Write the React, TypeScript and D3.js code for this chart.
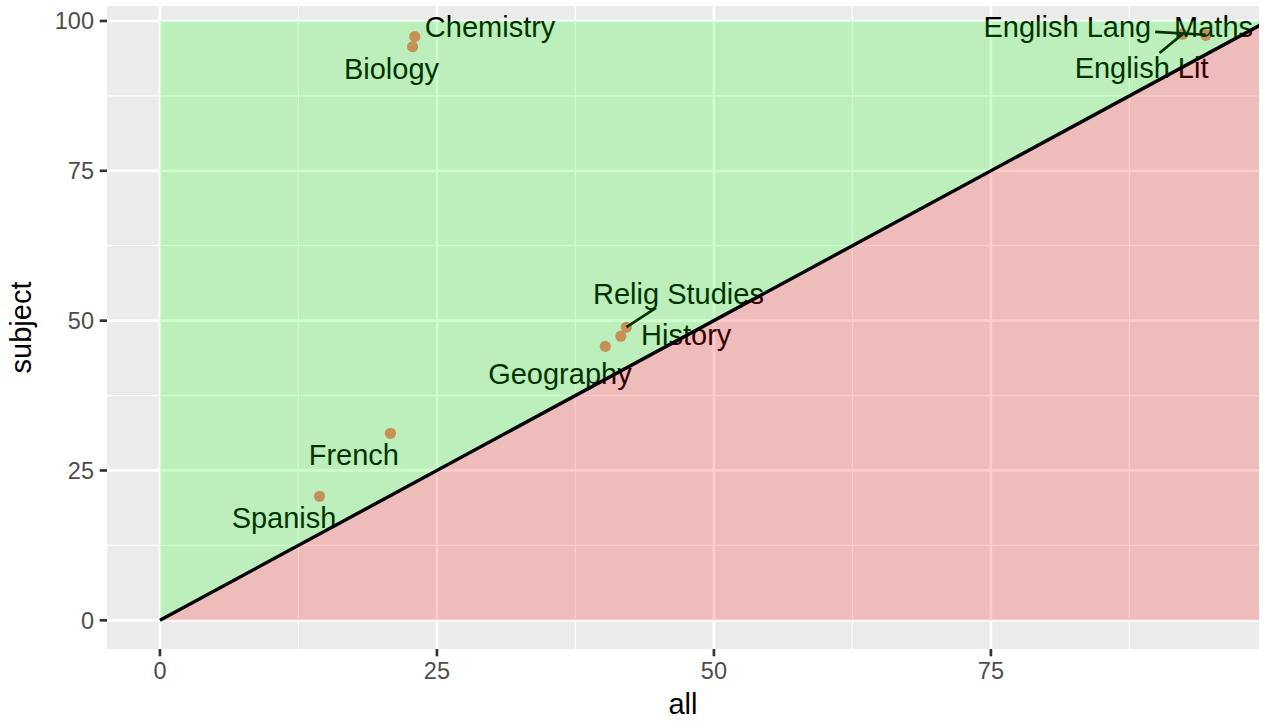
import React from "react";
import * as d3 from "d3";

const subjects = ["Chemistry", "Biology", "English Lang", "Maths", "English Lit", "Relig Studies", "History", "Geography", "French", "Spanish"];
const allVals = [23.0, 22.8, 94.4, 94.4, 92.3, 42.1, 41.6, 40.2, 20.8, 14.4];
const subjectVals = [97.4, 95.7, 97.7, 97.6, 97.8, 48.9, 47.4, 45.7, 31.2, 20.7];
// label positions (repelled), in data units
const labelX = [29.8, 20.9, 81.9, 95.1, 88.6, 46.8, 47.5, 36.1, 17.5, 11.2];
const labelY = [99.0, 92.0, 99.0, 99.0, 92.2, 54.6, 47.7, 41.1, 27.7, 17.2];
const segmentLabels = ["English Lang", "English Lit", "Relig Studies"];

const xTicks = [0, 25, 50, 75];
const yTicks = [0, 25, 50, 75, 100];
const xMinor = [12.5, 37.5, 62.5, 87.5];
const yMinor = [12.5, 37.5, 62.5, 87.5];

const regionMax = 100;

const W = 1264, H = 721;
const PL = 107, PR = 1259, PT = 6, PB = 649;

const FONT = "'Liberation Sans', Arial, Helvetica, sans-serif";

function measure(text: string, size: number) {
  const c = document.createElement("canvas").getContext("2d");
  if (!c) return text.length * size * 0.55;
  c.font = `${size}px ${FONT}`;
  return c.measureText(text).width;
}

export default function App() {
  const x = d3.scaleLinear().domain([-4.78, 99.2]).range([PL, PR]);
  const y = d3.scaleLinear().domain([-4.79, 102.5]).range([PB, PT]);

  const greenPoly = [[0, 0], [0, regionMax], [regionMax, regionMax]];
  const redPoly = [[0, 0], [regionMax, regionMax], [regionMax, 0]];
  const poly = (pts: number[][]) => pts.map(p => `${x(p[0])},${y(p[1])}`).join(" ");
  const line = d3.line<number[]>().x(d => x(d[0])).y(d => y(d[1]));

  const labelSize = 29;
  const halfH = 14.7;

  const segs = subjects.map((s, i) => {
    if (!segmentLabels.includes(s)) return null;
    const px = x(allVals[i]), py = y(subjectVals[i]);
    const cx = x(labelX[i]), cy = y(labelY[i]);
    const hw = measure(s, labelSize) / 2 + 4;
    const dx = cx - px, dy = cy - py;
    const tX = Math.abs(dx) > 1e-6 ? 1 - hw / Math.abs(dx) : -Infinity;
    const tY = Math.abs(dy) > 1e-6 ? 1 - halfH / Math.abs(dy) : -Infinity;
    const t = Math.max(tX, tY);
    if (t <= 0) return null;
    return { x1: px, y1: py, x2: px + dx * t, y2: py + dy * t };
  });

  return (
    <svg width={W} height={H} style={{ display: "block", position: "absolute", left: 0, top: 0 }}>
      <defs>
        <clipPath id="panel">
          <rect x={PL} y={PT} width={PR - PL} height={PB - PT} />
        </clipPath>
      </defs>
      <rect x={0} y={0} width={W} height={H} fill="#ffffff" />
      <rect x={PL} y={PT} width={PR - PL} height={PB - PT} fill="#EBEBEB" />
      <g clipPath="url(#panel)">
        {xMinor.map(v => (
          <line key={"xm" + v} x1={x(v)} x2={x(v)} y1={PT} y2={PB} stroke="#fff" strokeWidth={1.3} />
        ))}
        {yMinor.map(v => (
          <line key={"ym" + v} y1={y(v)} y2={y(v)} x1={PL} x2={PR} stroke="#fff" strokeWidth={1.3} />
        ))}
        {xTicks.map(v => (
          <line key={"xM" + v} x1={x(v)} x2={x(v)} y1={PT} y2={PB} stroke="#fff" strokeWidth={2.7} />
        ))}
        {yTicks.map(v => (
          <line key={"yM" + v} y1={y(v)} y2={y(v)} x1={PL} x2={PR} stroke="#fff" strokeWidth={2.7} />
        ))}
        {subjects.map((s, i) => (
          <circle key={"p" + s} cx={x(allVals[i])} cy={y(subjectVals[i])} r={5.6} fill="#F8766D" />
        ))}
        {segs.map((sg, i) => sg ? (
          <line key={"s" + i} x1={sg.x1} y1={sg.y1} x2={sg.x2} y2={sg.y2} stroke="#000" strokeWidth={2.7} />
        ) : null)}
        {subjects.map((s, i) => (
          <text key={"t" + s} x={x(labelX[i])} y={y(labelY[i])} dy="0.36em" textAnchor="middle"
            fontFamily={FONT} fontSize={labelSize} fill="#000">{s}</text>
        ))}
        <polygon points={poly(greenPoly)} fill="#00FF00" fillOpacity={0.2} />
        <polygon points={poly(redPoly)} fill="#FF0000" fillOpacity={0.2} />
        <path d={line([[0, 0], [regionMax, regionMax]]) || ""} stroke="#000" strokeWidth={3.4} fill="none" />
      </g>
      {/* axes */}
      {xTicks.map(v => (
        <g key={"xt" + v}>
          <line x1={x(v)} x2={x(v)} y1={PB} y2={PB + 7.3} stroke="#333" strokeWidth={2.7} />
          <text x={x(v)} y={PB + 30} textAnchor="middle" fontFamily={FONT} fontSize={23.5} fill="#4D4D4D">{v}</text>
        </g>
      ))}
      {yTicks.map(v => (
        <g key={"yt" + v}>
          <line x1={PL - 7.3} x2={PL} y1={y(v)} y2={y(v)} stroke="#333" strokeWidth={2.7} />
          <text x={PL - 13} y={y(v)} dy="0.36em" textAnchor="end" fontFamily={FONT} fontSize={23.5} fill="#4D4D4D">{v}</text>
        </g>
      ))}
      <text x={(PL + PR) / 2} y={714} textAnchor="middle" fontFamily={FONT} fontSize={29} fill="#000">all</text>
      <text transform={`translate(31,${(PT + PB) / 2}) rotate(-90)`} textAnchor="middle" fontFamily={FONT} fontSize={29} fill="#000">subject</text>
    </svg>
  );
}
